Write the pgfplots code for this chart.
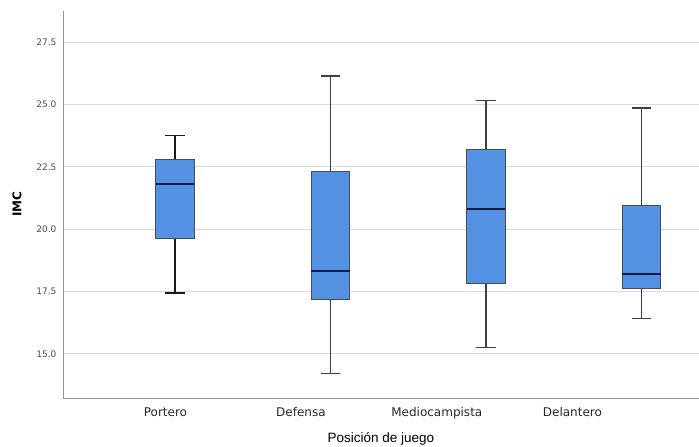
\documentclass[border=0pt]{standalone}
\usepackage{pgfplots}
\pgfplotsset{compat=1.18}
\usepackage{fontspec}
\setmainfont{Liberation Sans}
\newfontfamily\dejavu{DejaVu Sans}
\definecolor{boxblue}{RGB}{83,146,226}
\definecolor{medblue}{RGB}{10,28,70}
\definecolor{gridgray}{RGB}{218,218,218}
\definecolor{axgray}{RGB}{150,150,150}
\begin{document}
\begin{tikzpicture}
\begin{axis}[
  at={(63pt,49pt)}, anchor=south west,
  scale only axis, width=636pt, height=387pt,
  xmin=-0.72, xmax=3.37, ymin=13.23, ymax=28.75,
  axis x line*=bottom, axis y line*=left,
  axis line style={draw=axgray, line width=0.9pt},
  xtick={-0.061,0.81,1.684,2.556},
  xticklabels={Portero,Defensa,Mediocampista,Delantero},
  xticklabel style={font=\dejavu\fontsize{12}{14}\selectfont, text=black!85, anchor=base, yshift=-19pt},
  ytick={15,17.5,20,22.5,25,27.5},
  yticklabels={15.0,17.5,20.0,22.5,25.0,27.5},
  yticklabel style={font=\dejavu\fontsize{9}{11}\selectfont, text=black!70, xshift=-3pt},
  major tick length=0pt,
  ymajorgrids, grid style={draw=gridgray, line width=0.9pt},
  xlabel={Posición de juego},
  xlabel style={at={(axis description cs:0.5,-0.116)}, anchor=base, font=\fontsize{13.5}{16}\selectfont},
  ylabel={\textbf{IMC}},
  ylabel style={at={(axis description cs:-0.0723,0.501)}, anchor=center, font=\dejavu\fontsize{12}{14}\selectfont},
  clip=false,
  whisk/.style={draw=black!75, line width=1.3pt, mark=none},
  boxst/.style={fill=boxblue, draw=black!70, line width=0.9pt, mark=none},
  medst/.style={draw=medblue, line width=2.2pt, mark=none},
]
% Portero: lw 17.44, q1 19.63, med 21.82, q3 22.80, uw 23.76
\addplot[whisk, line width=1.4pt, draw=black!90] coordinates {(0,22.80) (0,23.76)};
\addplot[whisk, line width=1.4pt, draw=black!90] coordinates {(-0.0625,23.76) (0.0625,23.76)};
\addplot[whisk, line width=1.4pt, draw=black!90] coordinates {(0,19.63) (0,17.44)};
\addplot[whisk, line width=1.8pt, draw=black!90] coordinates {(-0.0625,17.44) (0.0625,17.44)};
\addplot[boxst] coordinates {(-0.1225,19.63) (0.1225,19.63) (0.1225,22.80) (-0.1225,22.80)} -- cycle;
\addplot[medst] coordinates {(-0.1225,21.82) (0.1225,21.82)};
% Defensa: lw 14.20, q1 17.20, med 18.33, q3 22.30, uw 26.14
\addplot[whisk] coordinates {(1,22.30) (1,26.14)};
\addplot[whisk] coordinates {(0.9375,26.14) (1.0625,26.14)};
\addplot[whisk] coordinates {(1,17.20) (1,14.20)};
\addplot[whisk] coordinates {(0.9375,14.20) (1.0625,14.20)};
\addplot[boxst] coordinates {(0.8775,17.20) (1.1225,17.20) (1.1225,22.30) (0.8775,22.30)} -- cycle;
\addplot[medst] coordinates {(0.8775,18.33) (1.1225,18.33)};
% Mediocampista: lw 15.25, q1 17.84, med 20.80, q3 23.20, uw 25.15
\addplot[whisk] coordinates {(2,23.20) (2,25.15)};
\addplot[whisk] coordinates {(1.9375,25.15) (2.0625,25.15)};
\addplot[whisk] coordinates {(2,17.84) (2,15.25)};
\addplot[whisk] coordinates {(1.9375,15.25) (2.0625,15.25)};
\addplot[boxst] coordinates {(1.8775,17.84) (2.1225,17.84) (2.1225,23.20) (1.8775,23.20)} -- cycle;
\addplot[medst] coordinates {(1.8775,20.80) (2.1225,20.80)};
% Delantero: lw 16.41, q1 17.64, med 18.19, q3 20.94, uw 24.86
\addplot[whisk] coordinates {(3,20.94) (3,24.86)};
\addplot[whisk] coordinates {(2.9375,24.86) (3.0625,24.86)};
\addplot[whisk] coordinates {(3,17.64) (3,16.41)};
\addplot[whisk] coordinates {(2.9375,16.41) (3.0625,16.41)};
\addplot[boxst] coordinates {(2.8775,17.64) (3.1225,17.64) (3.1225,20.94) (2.8775,20.94)} -- cycle;
\addplot[medst] coordinates {(2.8775,18.19) (3.1225,18.19)};
\end{axis}
\pgfresetboundingbox
\useasboundingbox (0,0) rectangle (699pt,447pt);
\end{tikzpicture}
\end{document}
